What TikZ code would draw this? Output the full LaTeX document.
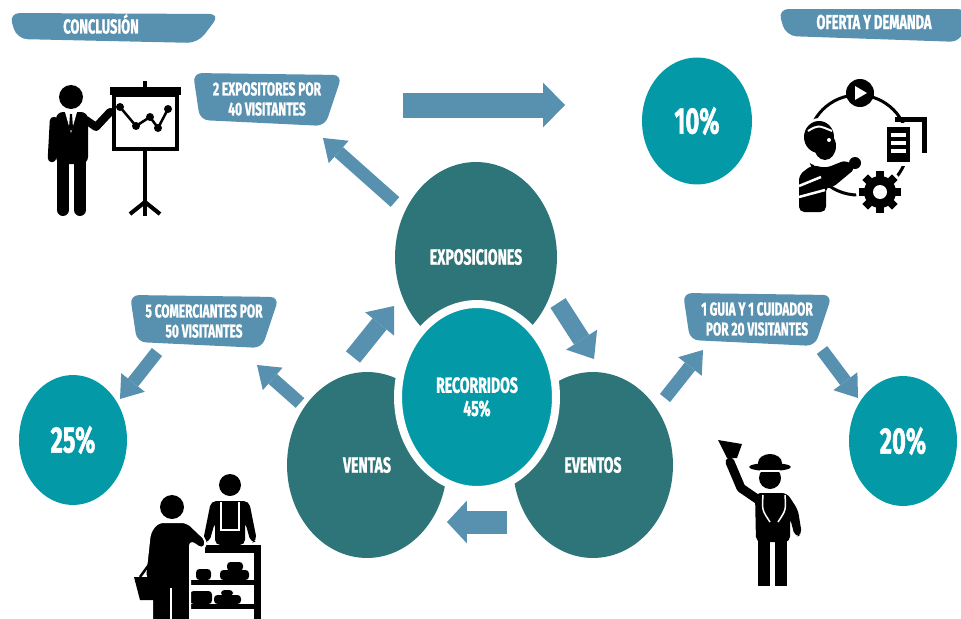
\documentclass[tikz,border=0pt]{standalone}
\usepackage{fontspec}
\newfontfamily\posterfont[FakeStretch=0.64, BoldFeatures={FakeBold=1.2}]{Fira Sans}
\usetikzlibrary{arrows.meta,shapes.geometric}

\definecolor{tealdark}{RGB}{46,117,122}
\definecolor{tealbright}{RGB}{4,153,167}
\definecolor{steel}{RGB}{88,145,175}

\tikzset{
  bubble/.style={ellipse, inner sep=0pt, fill=tealdark, text=white,
    font=\posterfont\bfseries\fontsize{12.5}{15}\selectfont, align=center},
  pct/.style={ellipse, inner sep=0pt, fill=tealbright, text=white,
    font=\posterfont\bfseries\fontsize{21}{24}\selectfont},
  tag/.style={text=white, align=center, inner sep=0pt,
    font=\posterfont\bfseries\fontsize{10.6}{11.4}\selectfont},
  banner/.style={text=white, inner sep=0pt,
    font=\posterfont\bfseries\fontsize{11.5}{13}\selectfont},
  thinarrow/.style={draw=steel, line width=2.6mm,
    -{Triangle[width=6mm,length=4.2mm,line width=0pt]}},
  midarrow/.style={draw=steel, line width=3.6mm,
    -{Triangle[width=7.4mm,length=4.6mm,line width=0pt]}},
  bigarrow/.style={draw=steel, line width=5mm,
    -{Triangle[width=9mm,length=4.4mm,line width=0pt]}},
}

% label plate with slanted sides
\newcommand\tagbox[4]{%
  \fill[steel, rounded corners=5, shift={(#2,#3)}]
    (-74,-26) -- (75,-24) -- (58,27) -- (-67,21) -- cycle;
  \node[tag] (#1) at (#2,#3) {#4};}

\begin{document}
\begin{tikzpicture}[x=0.02cm, y=-0.02cm]
  \useasboundingbox (0,0) rectangle (961,619);

  % headers
  \fill[steel, rounded corners=6] (9,13) -- (220,14) -- (198,43) -- (17,39) -- cycle;
  \node[banner] (conclusion) at (101,24) {CONCLUSIÓN};
  \fill[steel, rounded corners=6] (778,9) -- (968,9) -- (961,42) -- (786,36) -- cycle;
  \node[banner] (oferta) at (874,22) {OFERTA Y DEMANDA};

  % cycle of activities
  \node[bubble, minimum width=3.24cm, minimum height=3.8cm] (expo) at (476,257) {EXPOSICIONES};
  \node[bubble, minimum width=3.2cm, minimum height=3.72cm] (ventas) at (367,465) {VENTAS};
  \node[bubble, minimum width=3.2cm, minimum height=3.72cm] (eventos) at (593,465) {EVENTOS};
  \node[pct, draw=white, line width=1.6mm, minimum width=3.16cm, minimum height=3.72cm,
        font=\posterfont\bfseries\fontsize{12.5}{13.2}\selectfont, align=center]
        (reco) at (477,397) {RECORRIDOS\\45\%};

  % shares
  \node[pct, minimum width=2.2cm, minimum height=2.54cm] (p10) at (697,121) {10\%};
  \node[pct, minimum width=2.16cm, minimum height=2.6cm] (p25) at (73,440) {25\%};
  \node[pct, minimum width=2.16cm, minimum height=2.6cm] (p20) at (903,441) {20\%};

  % ratios
  \tagbox{expos}{267}{99}{2 EXPOSITORES POR\\40 VISITANTES}
  \tagbox{comer}{204}{321}{5 COMERCIANTES POR\\50 VISITANTES}
  \tagbox{guias}{757}{319}{1 GUIA Y 1 CUIDADOR\\POR 20 VISITANTES}

  % arrow ends
  \coordinate (bar-a) at (403,105);   \coordinate (bar-b) at (565,105);
  \coordinate (ex-a) at (395,202);    \coordinate (ex-b) at (323,138);
  \coordinate (ve-a) at (353,357);    \coordinate (ve-b) at (394,306);
  \coordinate (ev-a) at (558,303);    \coordinate (ev-b) at (594,359);
  \coordinate (bk-a) at (507,522);    \coordinate (bk-b) at (447,522);
  \coordinate (co-a) at (300,403);    \coordinate (co-b) at (257,365);
  \coordinate (c25-a) at (157,352);   \coordinate (c25-b) at (120,399);
  \coordinate (gu-a) at (665,398);    \coordinate (gu-b) at (703,350);
  \coordinate (g20-a) at (822,350);   \coordinate (g20-b) at (858,398);

  \draw[bigarrow] (bar-a) -- (bar-b);
  \draw[thinarrow] (ex-a) -- (ex-b);
  \draw[midarrow] (ve-a) -- (ve-b);
  \draw[midarrow] (ev-a) -- (ev-b);
  \draw[draw=steel, line width=4.6mm, -{Triangle[width=8.6mm,length=4mm,line width=0pt]}] (bk-a) -- (bk-b);
  \draw[thinarrow] (co-a) -- (co-b);
  \draw[thinarrow] (c25-a) -- (c25-b);
  \draw[thinarrow] (gu-a) -- (gu-b);
  \draw[thinarrow] (g20-a) -- (g20-b);

  % presenter at the board
  \fill (71,97) circle (12);
  \fill[rounded corners=4] (56,112) rectangle (88,164);
  \draw[line width=1.7mm, line cap=round] (54,121) -- (52,158);
  \draw[line width=1.6mm, line cap=round, line join=round] (86,120) -- (96,127) -- (110,112);
  \draw[line width=0.5mm] (108,113) -- (124,99);
  \draw[line width=2.4mm, line cap=round] (63,160) -- (63,210);
  \draw[line width=2.4mm, line cap=round] (80,160) -- (80,210);
  \fill[white] (65,112) -- (77,112) -- (71,133) -- cycle;
  \fill (70,114) -- (72,114) -- (73,128) -- (71,131) -- (69,128) -- cycle;
  \fill (110,87) rectangle (181,95);
  \fill (143,81) rectangle (147,87);
  \draw[line width=0.8mm, fill=white] (114,95) rectangle (177,149);
  \draw[line width=0.8mm] (145,149) -- (145,216);
  \draw[line width=0.8mm, line join=round] (130,214) -- (145,202) -- (160,214);
  \draw[line width=0.5mm] (120,107) -- (136,126) -- (150,117) -- (158,128) -- (168,109);
  \foreach \p in {(120,107),(136,126),(150,117),(158,128),(168,109)}
    \fill \p circle (4);

  % planning loop
  \draw[line width=0.6mm] (858,145) circle (50);
  \fill (860,93) circle (14);
  \fill[white] (855,86) -- (867,93) -- (855,100) -- cycle;
  \draw[line width=1mm] (895,119) -- (924,119) -- (924,153);
  \fill[white] (883,123) rectangle (914,166);
  \fill (887,127) rectangle (910,162);
  \foreach \yy in {133,141,149}
    \fill[white] (891,\yy) rectangle (906,\yy+4);
  \fill[white] (880,192) circle (24);
  \foreach \a in {0,45,...,315}
    \fill[rotate around={\a:(880,192)}] (876,171) rectangle (884,180);
  \fill (880,192) circle (16);
  \fill[white] (880,192) circle (7);
  \fill[white] (820,142) ellipse (21 and 24);
  \fill (819,137) ellipse (15 and 16);
  \fill (825,146) ellipse (11 and 14);
  \draw[white, line width=0.4mm] (808,131) .. controls (818,125) .. (832,131);
  \fill[white] (829,140) circle (2);
  \fill[rounded corners=3] (799,212) -- (799,175) -- (812,165) -- (826,168)
    -- (846,160) -- (856,168) -- (832,188) -- (826,186) -- (826,212) -- cycle;
  \draw[white, line width=0.5mm] (799,186) -- (821,177) (799,197) -- (825,190);
  \fill (855,163) circle (6);

  % market stall
  \fill (205,545) rectangle (261,553);
  \fill (254,545) rectangle (261,619);
  \fill (186,580) rectangle (261,585);
  \fill (186,604) rectangle (261,609);
  \fill[rounded corners=2] (196,569) rectangle (211,580);
  \fill[rounded corners=2] (220,570) rectangle (249,580);
  \fill[rounded corners=2] (227,562) rectangle (243,571);
  \fill[rounded corners=2] (190,591) rectangle (212,604);
  \fill[rounded corners=2] (214,595) rectangle (241,604);
  \fill[rounded corners=2] (221,590) rectangle (233,596);
  \fill (230,485) circle (11);
  \fill[rounded corners=3] (203,541) -- (211,501) -- (249,501) -- (257,541) -- (251,543)
    -- (245,522) -- (245,545) -- (215,545) -- (215,522) -- (209,543) -- cycle;
  \draw[white, line width=0.3mm] (221,502) -- (221,530) -- (239,530) -- (239,502);
  \fill (172,507) circle (12);
  \filldraw[draw=white, line width=0.4mm, rounded corners=3] (145,578) -- (150,532)
    -- (158,522) -- (187,522) -- (207,541) -- (203,550) -- (190,541) -- (190,625)
    -- (152,625) -- (152,585) -- cycle;
  \draw[white, line width=0.4mm] (171,588) -- (171,625);
  \fill (134,577) -- (167,577) -- (162,600) -- (140,600) -- cycle;
  \draw[line width=0.5mm] (140,577) -- (148,566) -- (156,577);

  % guide with flag
  \fill (718,440) -- (742,444) -- (737,458) -- (727,458) -- cycle;
  \draw[line width=1.8mm, line cap=round, line join=round] (757,499) -- (741,488) -- (730,462);
  \fill (770,463) ellipse (12 and 9);
  \fill (770,478) circle (11);
  \fill (770,467) ellipse (21 and 4);
  \draw[white, line width=0.3mm] (760,471) -- (780,471);
  \fill[rounded corners=3] (755,493) -- (787,493) -- (798,510) -- (802,535) -- (795,537)
    -- (790,518) -- (790,542) -- (756,542) -- cycle;
  \draw[white, line width=0.3mm] (763,495) .. controls (762,510) .. (770,522)
    (785,495) .. controls (786,510) .. (778,522);
  \draw[line width=2.4mm] (764,540) -- (764,586);
  \draw[line width=2.4mm] (781,540) -- (781,586);
\end{tikzpicture}
\end{document}
